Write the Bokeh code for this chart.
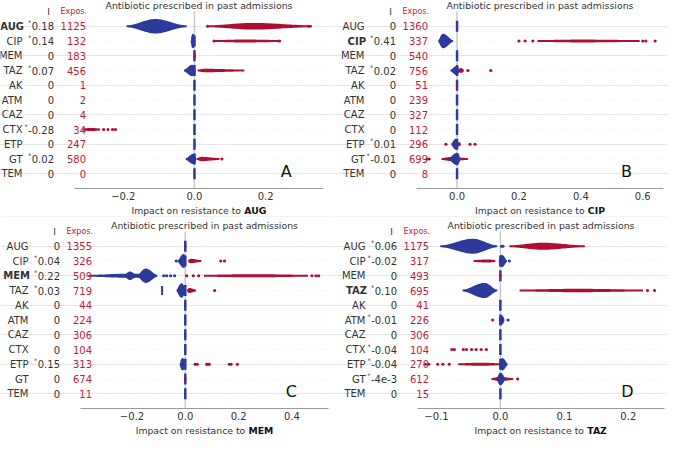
import numpy as np
from bokeh.plotting import figure
from bokeh.layouts import row, column
from bokeh.models import Range1d, Label, ColumnDataSource, FixedTicker
from bokeh.embed import file_html
from bokeh.resources import INLINE

# ---------------- data ----------------
features = ["AUG", "CIP", "MEM", "TAZ", "AK", "ATM", "CAZ", "CTX", "ETP", "GT", "TEM"]
targets = ["AUG", "CIP", "MEM", "TAZ"]
letters = ["A", "B", "C", "D"]

I_A = ["0.18", "0.14", "0", "0.07", "0", "0", "0", "-0.28", "0", "0.02", "0"]
I_B = ["0", "0.41", "0", "0.02", "0", "0", "0", "0", "0.01", "-0.01", "0"]
I_C = ["0", "0.04", "0.22", "0.03", "0", "0", "0", "0", "0.15", "0", "0"]
I_D = ["0.06", "-0.02", "0", "0.10", "0", "-0.01", "0", "-0.04", "-0.04", "-4e-3", "0"]
sig_A = [1, 1, 0, 1, 0, 0, 0, 1, 0, 1, 0]
sig_B = [0, 1, 0, 1, 0, 0, 0, 0, 1, 1, 0]
sig_C = [0, 1, 1, 1, 0, 0, 0, 0, 1, 0, 0]
sig_D = [1, 1, 0, 1, 0, 1, 0, 1, 1, 1, 0]
expos_A = [1125, 132, 183, 456, 1, 2, 4, 34, 247, 580, 0]
expos_B = [1360, 337, 540, 756, 51, 239, 327, 112, 296, 699, 8]
expos_C = [1355, 326, 509, 719, 44, 224, 306, 104, 313, 674, 11]
expos_D = [1175, 317, 493, 695, 41, 226, 306, 104, 270, 612, 15]

ticks_A = [-0.2, 0.0, 0.2]
ticks_B = [0.0, 0.2, 0.4, 0.6]
ticks_C = [-0.2, 0.0, 0.2, 0.4]
ticks_D = [-0.1, 0.0, 0.1, 0.2]
xlim_A = (-0.337, 0.3625)
xlim_B = (-0.131, 0.667)
xlim_C = (-0.393, 0.537)
xlim_D = (-0.1296, 0.2566)

# rows with a pile of zero-impact (unexposed) samples
zero_rows_A = [1, 2, 3, 4, 5, 6, 7, 8, 9, 10]
zero_rows_B = [0, 2, 3, 4, 5, 6, 7, 8, 9, 10]
zero_rows_C = [0, 1, 3, 4, 5, 6, 7, 8, 9, 10]
zero_rows_D = [1, 2, 4, 5, 6, 7, 8, 9, 10]

# swarm envelopes: (row, low, mode, high, half-thickness in rows)
blue_A = [(0, -0.191, -0.11, -0.022, 0.42), (1, -0.009, -0.004, 0.0, 0.42),
          (3, -0.029, -0.006, 0.003, 0.32), (9, -0.024, -0.003, 0.005, 0.28)]
red_A = [(0, 0.037, 0.165, 0.33, 0.16), (1, 0.057, 0.14, 0.243, 0.035),
         (3, 0.009, 0.03, 0.14, 0.05), (7, -0.315, -0.29, -0.265, 0.04),
         (9, 0.007, 0.02, 0.07, 0.08)]
red0_A = [2]
dots_A = [(0, 0.037, "r"), (0, 0.322, "r"), (1, 0.055, "r"), (1, 0.238, "r"),
          (7, -0.255, "r"), (7, -0.243, "r"), (7, -0.23, "r"), (7, -0.222, "r"), (9, 0.077, "r")]

blue_B = [(1, -0.06, -0.045, -0.013, 0.42), (3, -0.021, 0.0, 0.005, 0.25),
          (8, -0.018, -0.004, 0.003, 0.3), (9, -0.028, 0.0, 0.01, 0.35)]
red_B = [(1, 0.26, 0.4, 0.59, 0.03), (3, 0.005, 0.012, 0.022, 0.1),
         (8, 0.0, 0.005, 0.012, 0.08), (9, -0.05, -0.02, 0.035, 0.07)]
red0_B = [0, 4]
dots_B = [(1, 0.2, "r"), (1, 0.22, "r"), (1, 0.245, "r"), (1, 0.6, "r"), (1, 0.61, "r"),
          (1, 0.64, "r"), (3, 0.035, "r"), (3, 0.109, "r"), (8, -0.036, "r"),
          (8, 0.042, "r"), (8, 0.058, "r"), (9, -0.097, "r"), (9, -0.09, "r")]

blue_C = [(1, -0.028, -0.006, 0.0, 0.4), (2, -0.362, -0.2, -0.11, 0.08),
          (2, -0.23, -0.207, -0.185, 0.22), (2, -0.18, -0.148, -0.105, 0.42),
          (3, -0.032, -0.014, 0.0, 0.42), (3, -0.087, -0.087, -0.087, 0.3),
          (8, -0.02, -0.01, 0.0, 0.35)]
red_C = [(1, 0.011, 0.02, 0.06, 0.08), (2, 0.07, 0.25, 0.46, 0.04),
         (3, 0.007, 0.015, 0.04, 0.1)]
red0_C = [0, 9]
dots_C = [(1, -0.034, "b"), (1, 0.133, "r"), (1, 0.147, "r"), (2, -0.081, "b"),
          (2, -0.07, "b"), (2, -0.055, "b"), (2, -0.04, "b"), (2, 0.005, "r"),
          (2, 0.03, "r"), (2, 0.05, "r"), (2, 0.475, "r"), (2, 0.49, "r"), (2, 0.5, "r"),
          (3, 0.11, "r"), (8, 0.037, "r"), (8, 0.045, "r"), (8, 0.08, "r"),
          (8, 0.085, "r"), (8, 0.09, "r"), (8, 0.165, "r"), (8, 0.172, "r"), (8, 0.195, "r")]

blue_D = [(0, -0.094, -0.043, -0.005, 0.44), (1, -0.002, 0.002, 0.01, 0.35),
          (3, -0.059, -0.025, -0.005, 0.45), (5, -0.002, 0.002, 0.006, 0.25),
          (8, -0.002, 0.003, 0.011, 0.35), (9, -0.005, 0.0, 0.008, 0.35)]
red_D = [(0, 0.014, 0.066, 0.132, 0.17), (1, -0.042, -0.02, -0.008, 0.04),
         (3, 0.03, 0.12, 0.223, 0.05), (8, -0.066, -0.03, 0.0, 0.04),
         (9, -0.014, 0.0, 0.02, 0.08)]
red0_D = [2]
dots_D = [(0, 0.004, "r"), (0, 0.002, "b"), (1, 0.014, "b"), (3, 0.23, "r"), (3, 0.241, "r"),
          (5, -0.012, "r"), (5, 0.012, "b"), (7, -0.076, "r"), (7, -0.072, "r"),
          (7, -0.058, "r"), (7, -0.053, "r"), (7, -0.045, "r"), (7, -0.038, "r"),
          (7, -0.03, "r"), (7, -0.022, "r"), (8, -0.117, "r"), (8, -0.112, "r"),
          (8, -0.098, "r"), (8, -0.09, "r"), (8, -0.08, "r"), (9, 0.027, "r")]

panels = [
    dict(I=I_A, sig=sig_A, expos=expos_A, ticks=ticks_A, xlim=xlim_A, zero=zero_rows_A,
         blue=blue_A, red=red_A, red0=red0_A, dots=dots_A),
    dict(I=I_B, sig=sig_B, expos=expos_B, ticks=ticks_B, xlim=xlim_B, zero=zero_rows_B,
         blue=blue_B, red=red_B, red0=red0_B, dots=dots_B),
    dict(I=I_C, sig=sig_C, expos=expos_C, ticks=ticks_C, xlim=xlim_C, zero=zero_rows_C,
         blue=blue_C, red=red_C, red0=red0_C, dots=dots_C),
    dict(I=I_D, sig=sig_D, expos=expos_D, ticks=ticks_D, xlim=xlim_D, zero=zero_rows_D,
         blue=blue_D, red=red_D, red0=red0_D, dots=dots_D),
]

# ---------------- style ----------------
FONT = "DejaVu Sans"
BLUE = "#2c3a9c"
RED = "#b10d30"
RED_TXT = "#c01a3e"
TXT = "#333333"

# panel geometry: (width, main height, xlabel height, data-left px, data-right px, top px)
geom = [(332, 204, 12, 74, 9, 11), (335, 204, 12, 84, 4, 11),
        (332, 208, 15, 80, 4, 15), (335, 208, 15, 85, 3, 15)]
AXIS_H = 16

W_REG = {c: 0.636 for c in "0123456789"}
W_REG.update({".": 0.318, "-": 0.361, "e": 0.615})
W_BOLD = {"A": 0.774, "U": 0.812, "G": 0.821, "C": 0.734, "I": 0.372, "P": 0.733,
          "M": 0.995, "E": 0.683, "T": 0.682, "Z": 0.725}
XLAB_EM = 12.131  # width of "Impact on resistance to " in em


def envelope(r, lo, mode, hi, h, n=24):
    if hi - lo < 1e-12:
        return [lo, lo + 1e-9, lo + 1e-9, lo], [r - h, r - h, r + h, r + h]
    left = np.linspace(lo, mode, n) if mode > lo else np.array([lo])
    right = np.linspace(mode, hi, n)[1:] if hi > mode else np.array([])
    xt = np.concatenate([left, right])
    f = []
    for x in xt:
        if x <= mode:
            u = 1.0 if mode <= lo else (x - lo) / (mode - lo)
        else:
            u = (hi - x) / (hi - mode)
        f.append(u * u * (3 - 2 * u))
    f = np.array(f)
    xs = list(xt) + list(xt[::-1])
    ys = list(r - h * f) + list((r + h * f)[::-1])
    return xs, ys


def patches_of(items):
    xs, ys = [], []
    for it in items:
        a, b = envelope(*it)
        xs.append(a)
        ys.append(b)
    return ColumnDataSource(dict(xs=xs, ys=ys))


cols = []
for k, pd_ in enumerate(panels):
    W, HM, HX, L, R, T = geom[k]
    fw = W - L - R                 # width of data region
    fh = HM - AXIS_H               # frame height
    x0, x1 = pd_["xlim"]
    upx = (x1 - x0) / fw           # data units per pixel
    rpx = (fh - T) / 12.0          # pixels per row
    p = figure(width=W, height=HM, output_backend="svg", toolbar_location=None,
               x_range=Range1d(x0 - L * upx, x1 + R * upx),
               y_range=Range1d(11, -1 - T / rpx),
               y_axis_location=None, title_location=None,
               min_border_left=0, min_border_right=0, min_border_top=0,
               min_border_bottom=AXIS_H, tools="")
    p.outline_line_color = None
    p.xgrid.visible = False

    # row guide lines and zero line
    p.segment(x0=[x0] * 11, x1=[x1] * 11, y0=list(range(11)), y1=list(range(11)),
              line_color="#ececec", line_dash="1 2", line_width=1)
    p.segment(x0=[0], x1=[0], y0=[-1], y1=[11], line_color="#c8c8c8", line_width=1.5)

    ax = p.xaxis[0]
    ax.bounds = (x0, x1)
    ax.ticker = FixedTicker(ticks=pd_["ticks"])
    ax.major_label_overrides = {t: ("\u2212%.1f" % abs(t) if t < 0 else "%.1f" % t)
                                for t in pd_["ticks"]}
    ax.minor_tick_line_color = None
    ax.major_tick_line_color = None
    ax.major_tick_out = 0
    ax.major_tick_in = 0
    ax.major_label_standoff = 3
    ax.axis_line_color = "#9a9a9a"
    ax.major_label_text_font = FONT
    ax.major_label_text_font_size = "10px"
    ax.major_label_text_color = TXT

    # swarms
    p.patches("xs", "ys", source=patches_of(pd_["red"]), fill_color=RED,
              line_color=RED, line_width=2)
    zero_items = [(r, 0.0, 0.0, 0.0, 0.38) for r in pd_["zero"]]
    p.patches("xs", "ys", source=patches_of(zero_items), fill_color=BLUE,
              line_color=BLUE, line_width=2.5)
    p.patches("xs", "ys", source=patches_of(pd_["blue"]), fill_color=BLUE,
              line_color=BLUE, line_width=2)
    red0_items = [(r, 0.0, 0.0, 0.0, 0.12) for r in pd_["red0"]]
    if red0_items:
        p.patches("xs", "ys", source=patches_of(red0_items), fill_color=RED,
                  line_color=RED, line_width=2)
    dx = [d[1] for d in pd_["dots"]]
    dy = [d[0] for d in pd_["dots"]]
    dc = [RED if d[2] == "r" else BLUE for d in pd_["dots"]]
    p.scatter(x=dx, y=dy, color=dc, size=3.2, line_width=0)

    # left text columns (screen x measured from the panel's left edge)
    tgt = targets[k]
    lab_fs = 10
    for i, f in enumerate(features):
        bold = f == tgt
        p.add_layout(Label(x=L - 52 + (1.5 if bold else 0), y=i, x_units="screen",
                           y_units="data", text=f, text_align="right",
                           text_baseline="middle", text_font=FONT,
                           text_font_size="%.1fpx" % lab_fs,
                           text_font_style="bold" if bold else "normal", text_color=TXT))
        v = pd_["I"][i]
        p.add_layout(Label(x=L - 20.5, y=i, x_units="screen", y_units="data", text=v,
                           text_align="right", text_baseline="middle", text_font=FONT,
                           text_font_size="%.1fpx" % lab_fs, text_color=TXT))
        if pd_["sig"][i]:
            wv = sum(W_REG.get(c, 0.6) for c in v) * lab_fs
            p.add_layout(Label(x=L - 20.5 - wv - 0.5, y=i, x_units="screen", y_units="data",
                               text="*", text_align="right", text_baseline="middle",
                               y_offset=3, text_font=FONT, text_font_size="6.5px",
                               text_color=TXT))
        p.add_layout(Label(x=L + 11.5, y=i, x_units="screen", y_units="data",
                           text=str(pd_["expos"][i]), text_align="right",
                           text_baseline="middle", text_font=FONT,
                           text_font_size="%.1fpx" % lab_fs, text_color=RED_TXT))
    p.add_layout(Label(x=L - 26, y=-1, x_units="screen", y_units="data", text="I",
                       text_align="center", text_baseline="middle", text_font=FONT,
                       text_font_size="9px", text_color=TXT))
    p.add_layout(Label(x=L + 12.5, y=-1, x_units="screen", y_units="data", text="Expos.",
                       text_align="right", text_baseline="middle", text_font=FONT,
                       text_font_size="8px", text_color=RED_TXT))

    # title
    p.add_layout(Label(x=L + fw / 2, y=-1 - 6.3 / rpx, x_units="screen", y_units="data",
                       text="Antibiotic prescribed in past admissions", text_align="center",
                       text_baseline="middle", text_font=FONT, text_font_size="9.4px",
                       text_color=TXT))
    # panel letter
    p.add_layout(Label(x=L + 0.85 * fw, y=9.85, x_units="screen", y_units="data",
                       text=letters[k], text_align="center", text_baseline="middle",
                       text_font=FONT, text_font_size="16px", text_color="#111111"))

    # x label with bold target, in a strip under the axis
    q = figure(width=W, height=HX, output_backend="svg", toolbar_location=None,
               x_range=Range1d(0, 1), y_range=Range1d(0, 1), x_axis_location=None,
               y_axis_location=None, title_location=None, min_border=0, tools="")
    q.outline_line_color = None
    q.grid.visible = False
    xfs = 9.3
    wa = XLAB_EM * xfs
    wb = sum(W_BOLD[c] for c in tgt) * xfs
    xs0 = L + fw / 2 - (wa + wb) / 2
    ylab = HX - 5.5
    q.add_layout(Label(x=xs0, y=ylab, x_units="screen", y_units="screen",
                       text="Impact on resistance to", text_align="left",
                       text_baseline="middle", text_font=FONT,
                       text_font_size="%.1fpx" % xfs, text_color=TXT))
    q.add_layout(Label(x=xs0 + wa, y=ylab, x_units="screen", y_units="screen",
                       text=tgt, text_align="left", text_baseline="middle",
                       text_font=FONT, text_font_style="bold",
                       text_font_size="%.1fpx" % xfs, text_color="#111111"))
    cols.append(column(p, q))

layout = column(row(cols[0], cols[1]), row(cols[2], cols[3]))
open("out.html", "w").write(file_html(layout, INLINE))
